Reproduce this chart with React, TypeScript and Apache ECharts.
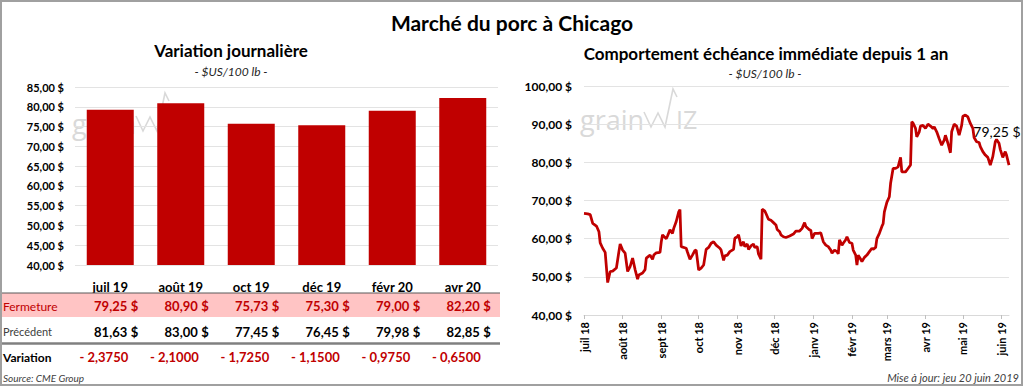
import React, { useEffect, useRef } from "react";
import * as echarts from "echarts";

const mainTitle = "Marché du porc à Chicago";
const leftTitle = "Variation journalière";
const rightTitle = "Comportement échéance immédiate depuis 1 an";
const unitLabel = "- $US/100 lb -";
const sourceText = "Source: CME Group";
const updateText = "Mise à jour: jeu 20 juin 2019";
const rowLabels = ["Fermeture", "Précédent", "Variation"];

const contracts = ["juil 19", "août 19", "oct 19", "déc 19", "févr 20", "avr 20"];
const closes = [79.25, 80.9, 75.73, 75.3, 79.0, 82.2];
const previous = [81.63, 83.0, 77.45, 76.45, 79.98, 82.85];
const variations = [-2.375, -2.1, -1.725, -1.15, -0.975, -0.65];

const monthStarts = [
  "2018-07-01", "2018-08-01", "2018-09-01", "2018-10-01", "2018-11-01", "2018-12-01",
  "2019-01-01", "2019-02-01", "2019-03-01", "2019-04-01", "2019-05-01", "2019-06-01",
];
const monthLabels = [
  "juil 18", "août 18", "sept 18", "oct 18", "nov 18", "déc 18",
  "janv 19", "févr 19", "mars 19", "avr 19", "mai 19", "juin 19",
];
const axisStart = "2018-07-01";
const axisEnd = "2019-06-07";

const lineDates = [
  "2018-07-01", "2018-07-04", "2018-07-06", "2018-07-08", "2018-07-11", "2018-07-13", "2018-07-14", "2018-07-16",
  "2018-07-18", "2018-07-20", "2018-07-22", "2018-07-24", "2018-07-27", "2018-07-29", "2018-07-30", "2018-08-01",
  "2018-08-03", "2018-08-05", "2018-08-07", "2018-08-09", "2018-08-11", "2018-08-13", "2018-08-14", "2018-08-17",
  "2018-08-19", "2018-08-20", "2018-08-23", "2018-08-25", "2018-08-26", "2018-08-28", "2018-08-31", "2018-09-01",
  "2018-09-02", "2018-09-05", "2018-09-06", "2018-09-08", "2018-09-10", "2018-09-11", "2018-09-13", "2018-09-15",
  "2018-09-16", "2018-09-17", "2018-09-21", "2018-09-22", "2018-09-24", "2018-09-26", "2018-09-28", "2018-09-29",
  "2018-10-01", "2018-10-03", "2018-10-05", "2018-10-07", "2018-10-09", "2018-10-11", "2018-10-13", "2018-10-15",
  "2018-10-18", "2018-10-19", "2018-10-21", "2018-10-22", "2018-10-24", "2018-10-26", "2018-10-29", "2018-10-30",
  "2018-11-01", "2018-11-02", "2018-11-04", "2018-11-06", "2018-11-07", "2018-11-09", "2018-11-10", "2018-11-12",
  "2018-11-14", "2018-11-15", "2018-11-17", "2018-11-18", "2018-11-20", "2018-11-21", "2018-11-23", "2018-11-24",
  "2018-11-26", "2018-11-28", "2018-11-30", "2018-12-02", "2018-12-03", "2018-12-05", "2018-12-06", "2018-12-08",
  "2018-12-10", "2018-12-13", "2018-12-16", "2018-12-18", "2018-12-21", "2018-12-23", "2018-12-25", "2018-12-26",
  "2018-12-29", "2018-12-30", "2018-12-31", "2019-01-02", "2019-01-05", "2019-01-07", "2019-01-09", "2019-01-11",
  "2019-01-13", "2019-01-15", "2019-01-16", "2019-01-18", "2019-01-20", "2019-01-21", "2019-01-22", "2019-01-24",
  "2019-01-25", "2019-01-27", "2019-01-28", "2019-01-30", "2019-02-01", "2019-02-02", "2019-02-04", "2019-02-05",
  "2019-02-06", "2019-02-08", "2019-02-09", "2019-02-11", "2019-02-13", "2019-02-15", "2019-02-17", "2019-02-18",
  "2019-02-20", "2019-02-21", "2019-02-23", "2019-02-25", "2019-02-26", "2019-02-27", "2019-03-01", "2019-03-03",
  "2019-03-04", "2019-03-06", "2019-03-08", "2019-03-10", "2019-03-12", "2019-03-13", "2019-03-16", "2019-03-18",
  "2019-03-20", "2019-03-21", "2019-03-22", "2019-03-24", "2019-03-25", "2019-03-27", "2019-03-28", "2019-03-30",
  "2019-04-01", "2019-04-03", "2019-04-05", "2019-04-07", "2019-04-08", "2019-04-10", "2019-04-12", "2019-04-14",
  "2019-04-16", "2019-04-17", "2019-04-19", "2019-04-21", "2019-04-22", "2019-04-24", "2019-04-26", "2019-04-28",
  "2019-04-30", "2019-05-01", "2019-05-03", "2019-05-05", "2019-05-07", "2019-05-09", "2019-05-10", "2019-05-12",
  "2019-05-14", "2019-05-15", "2019-05-17", "2019-05-19", "2019-05-21", "2019-05-23", "2019-05-25", "2019-05-27",
  "2019-05-28", "2019-05-30", "2019-05-31", "2019-06-02", "2019-06-04", "2019-06-05", "2019-06-07",
];
const lineValues = [
  66.6, 66.5, 66.3, 64.0, 63.3, 61.8, 58.9, 57.5,
  56.4, 48.5, 51.4, 51.5, 52.3, 56.6, 58.6, 57.0,
  56.2, 51.4, 52.7, 54.9, 51.9, 49.4, 50.5, 51.0,
  51.9, 54.9, 55.7, 54.6, 55.7, 56.3, 56.4, 59.2,
  61.0, 60.0, 60.7, 62.3, 61.4, 62.7, 64.5, 67.0,
  67.6, 57.9, 57.5, 56.5, 54.6, 55.7, 56.9, 57.0,
  51.8, 52.3, 53.1, 57.2, 57.7, 58.8, 59.2, 58.3,
  57.5, 57.0, 54.3, 55.5, 55.7, 56.6, 57.2, 60.1,
  60.5, 61.0, 58.1, 59.2, 57.9, 58.6, 57.2, 58.1,
  58.6, 57.7, 57.9, 56.0, 54.6, 67.7, 67.3, 66.6,
  65.1, 64.8, 64.2, 63.6, 62.4, 61.8, 61.0, 60.5,
  60.3, 60.7, 61.2, 62.0, 62.0, 62.7, 64.2, 63.2,
  62.3, 62.2, 60.0, 61.4, 61.4, 61.5, 59.2, 58.3,
  57.9, 57.0, 56.2, 57.0, 56.6, 56.0, 59.7, 58.3,
  58.8, 59.7, 60.5, 59.0, 58.8, 57.0, 55.7, 53.1,
  55.7, 54.6, 54.0, 55.1, 55.7, 56.6, 57.5, 57.2,
  57.7, 60.0, 61.4, 63.2, 63.9, 67.0, 69.5, 71.0,
  74.5, 78.4, 78.4, 78.8, 81.3, 77.5, 77.5, 78.4,
  79.3, 90.6, 90.3, 88.9, 86.7, 88.0, 89.5, 89.7,
  88.9, 90.0, 89.5, 88.9, 89.3, 88.0, 86.2, 84.5,
  85.8, 87.1, 85.0, 82.5, 88.0, 90.0, 89.5, 87.1,
  89.7, 92.1, 92.4, 91.9, 90.2, 88.9, 86.5, 85.4,
  85.2, 84.1, 82.8, 81.9, 81.3, 79.3, 81.5, 85.4,
  86.0, 85.0, 83.4, 81.3, 82.8, 81.9, 79.25,
];

const FONT = "Lato, 'Open Sans', sans-serif";
const RED = "#C00000";

function parseLocal(s: string): number {
  const [y, m, d] = s.split("-").map(Number);
  return new Date(y, m - 1, d).getTime();
}
function fr2(v: number): string {
  return v.toFixed(2).replace(".", ",");
}
function frVar(v: number): string {
  return (v < 0 ? "- " : "") + Math.abs(v).toFixed(4).replace(".", ",");
}

export default function App() {
  const ref = useRef<HTMLDivElement>(null);

  useEffect(() => {
    if (!ref.current) return;
    const chart = echarts.init(ref.current, undefined, { renderer: "svg" });

    const gL = { left: 75, top: 87, width: 423, height: 178 };
    const gR = { left: 584, top: 86, width: 425, height: 229 };
    const catW = gL.width / contracts.length;
    const monthTimes = monthStarts.map(parseLocal);

    const txt = (text: string, x: number, y: number, o: any = {}) => ({
      type: "text",
      x,
      y,
      z: 10,
      style: {
        text,
        fontFamily: FONT,
        fontSize: o.size || 12,
        fontWeight: o.weight || "normal",
        fontStyle: o.italic ? "italic" : "normal",
        fill: o.color || "#000",
        align: o.align || "left",
        verticalAlign: "middle",
      },
    });

    const logo = (dx: number, dy: number) => [
      {
        type: "text",
        x: 580 + dx,
        y: 119 + dy,
        z: 0,
        style: { text: "grain", fontFamily: "'Open Sans', sans-serif", fontSize: 27, fill: "#D9D9D9", verticalAlign: "middle" },
      },
      {
        type: "polyline",
        z: 0,
        shape: {
          points: [
            [644 + dx, 112 + dy], [651 + dx, 127 + dy], [658 + dx, 113 + dy],
            [665 + dx, 127 + dy], [673 + dx, 89 + dy], [677 + dx, 97 + dy],
          ],
        },
        style: { stroke: "#D9D9D9", lineWidth: 1.6, fill: "none" },
      },
      {
        type: "text",
        x: 676 + dx,
        y: 119 + dy,
        z: 0,
        style: { text: "IZ", fontFamily: "'Open Sans', sans-serif", fontSize: 25, fill: "#D9D9D9", verticalAlign: "middle" },
      },
    ];

    const tableEls: any[] = [
      { type: "rect", z: 1, shape: { x: 1, y: 293, width: 499, height: 24 }, style: { fill: "#FFC4C4" } },
      { type: "line", z: 2, shape: { x1: 1, y1: 293, x2: 500, y2: 293 }, style: { stroke: "#595959", lineWidth: 1 } },
      { type: "line", z: 2, shape: { x1: 1, y1: 343.5, x2: 500, y2: 343.5 }, style: { stroke: "#808080", lineWidth: 2.5 } },
      txt(rowLabels[0], 3, 306, { color: RED, size: 12 }),
      txt(rowLabels[1], 3, 331.5, { color: "#404040", size: 11 }),
      txt(rowLabels[2], 3, 357, { size: 12, weight: "bold" }),
      txt(sourceText, 3, 378, { size: 10, italic: true, color: "#404040" }),
    ];
    contracts.forEach((_, i) => {
      const c = gL.left + (i + 0.5) * catW;
      tableEls.push(txt(fr2(closes[i]), c + 17, 306, { align: "right", size: 13, weight: "bold", color: RED }));
      tableEls.push(txt("$", c + 28, 306, { align: "right", size: 13, weight: "bold", color: RED }));
      tableEls.push(txt(fr2(previous[i]), c + 17, 331.5, { align: "right", size: 13, weight: "bold" }));
      tableEls.push(txt("$", c + 28, 331.5, { align: "right", size: 13, weight: "bold" }));
      tableEls.push(txt(frVar(variations[i]), c + 18, 357, { align: "right", size: 13, weight: "bold", color: RED }));
    });

    const lastIdx = lineDates.length - 1;
    const lineData = lineDates.map((d, i) => [parseLocal(d), lineValues[i]]);

    chart.setOption({
      animation: false,
      backgroundColor: "#fff",
      textStyle: { fontFamily: FONT },
      grid: [
        { ...gL, containLabel: false },
        { ...gR, containLabel: false },
      ],
      xAxis: [
        {
          type: "category",
          gridIndex: 0,
          data: contracts,
          axisLine: { show: false },
          axisTick: { show: false },
          axisLabel: { margin: 15, fontSize: 13, fontWeight: "bold", color: "#000", fontFamily: FONT },
        },
        {
          type: "value",
          gridIndex: 1,
          min: parseLocal(axisStart),
          max: parseLocal(axisEnd),
          splitLine: { show: false },
          axisLine: { show: true, lineStyle: { color: "#D9D9D9" } },
          axisTick: { show: true, length: 4, lineStyle: { color: "#BFBFBF" }, customValues: monthTimes },
          axisLabel: {
            customValues: monthTimes,
            rotate: 90,
            margin: 7,
            fontSize: 11,
            fontWeight: "bold",
            color: "#000",
            fontFamily: FONT,
            formatter: (v: number) => {
              let best = 0;
              monthTimes.forEach((t, i) => {
                if (Math.abs(t - v) < Math.abs(monthTimes[best] - v)) best = i;
              });
              return monthLabels[best];
            },
          },
        },
      ],
      yAxis: [
        {
          type: "value",
          gridIndex: 0,
          min: 40,
          max: 85,
          interval: 5,
          axisLine: { show: false },
          axisTick: { show: false },
          splitLine: { lineStyle: { color: "#E3E3E3" } },
          axisLabel: {
            margin: 11,
            fontSize: 11,
            fontWeight: "bold",
            color: "#000",
            fontFamily: FONT,
            formatter: (v: number) => fr2(v) + " $",
          },
        },
        {
          type: "value",
          gridIndex: 1,
          min: 40,
          max: 100,
          interval: 10,
          axisLine: { show: false },
          axisTick: { show: false },
          splitLine: { lineStyle: { color: "#E3E3E3" } },
          axisLabel: {
            margin: 12,
            fontSize: 12,
            fontWeight: "bold",
            color: "#000",
            fontFamily: FONT,
            formatter: (v: number) => fr2(v) + " $",
          },
        },
      ],
      series: [
        {
          type: "bar",
          xAxisIndex: 0,
          yAxisIndex: 0,
          data: closes,
          barWidth: 47,
          itemStyle: { color: RED },
          z: 3,
        },
        {
          type: "line",
          xAxisIndex: 1,
          yAxisIndex: 1,
          data: lineData,
          showSymbol: false,
          symbol: "none",
          lineStyle: { color: RED, width: 2.75 },
          z: 3,
          markPoint: {
            symbol: "circle",
            symbolSize: 1,
            itemStyle: { color: "rgba(0,0,0,0)" },
            silent: true,
            data: [
              {
                coord: lineData[lastIdx],
                label: {
                  show: true,
                  position: "inside",
                  offset: [-12, -34],
                  formatter: fr2(lineValues[lastIdx]) + " $",
                  fontFamily: FONT,
                  fontSize: 14,
                  color: "#000",
                },
              },
            ],
          },
        },
      ],
      graphic: [
        {
          type: "rect",
          z: 20,
          shape: { x: 1, y: 1, width: 1021, height: 384 },
          style: { fill: "none", stroke: "#A0A0A0", lineWidth: 2 },
        },
        txt(mainTitle, 512, 22, { size: 21, weight: "bold", align: "center" }),
        txt(leftTitle, 231, 50, { size: 17, weight: "bold", align: "center" }),
        txt(unitLabel, 231, 71, { size: 12, italic: true, align: "center", color: "#262626" }),
        txt(rightTitle, 766, 53, { size: 17, weight: "bold", align: "center" }),
        txt(unitLabel, 765, 73, { size: 12, italic: true, align: "center", color: "#262626" }),
        txt(updateText, 1019, 377.5, { size: 11, italic: true, align: "right", color: "#404040" }),
        ...logo(0, 0),
        ...logo(-508, 4),
        ...tableEls,
      ],
    });

    return () => chart.dispose();
  }, []);

  return (
    <div
      ref={ref}
      style={{ position: "absolute", left: 0, top: 0, width: 1024, height: 387 }}
    />
  );
}
